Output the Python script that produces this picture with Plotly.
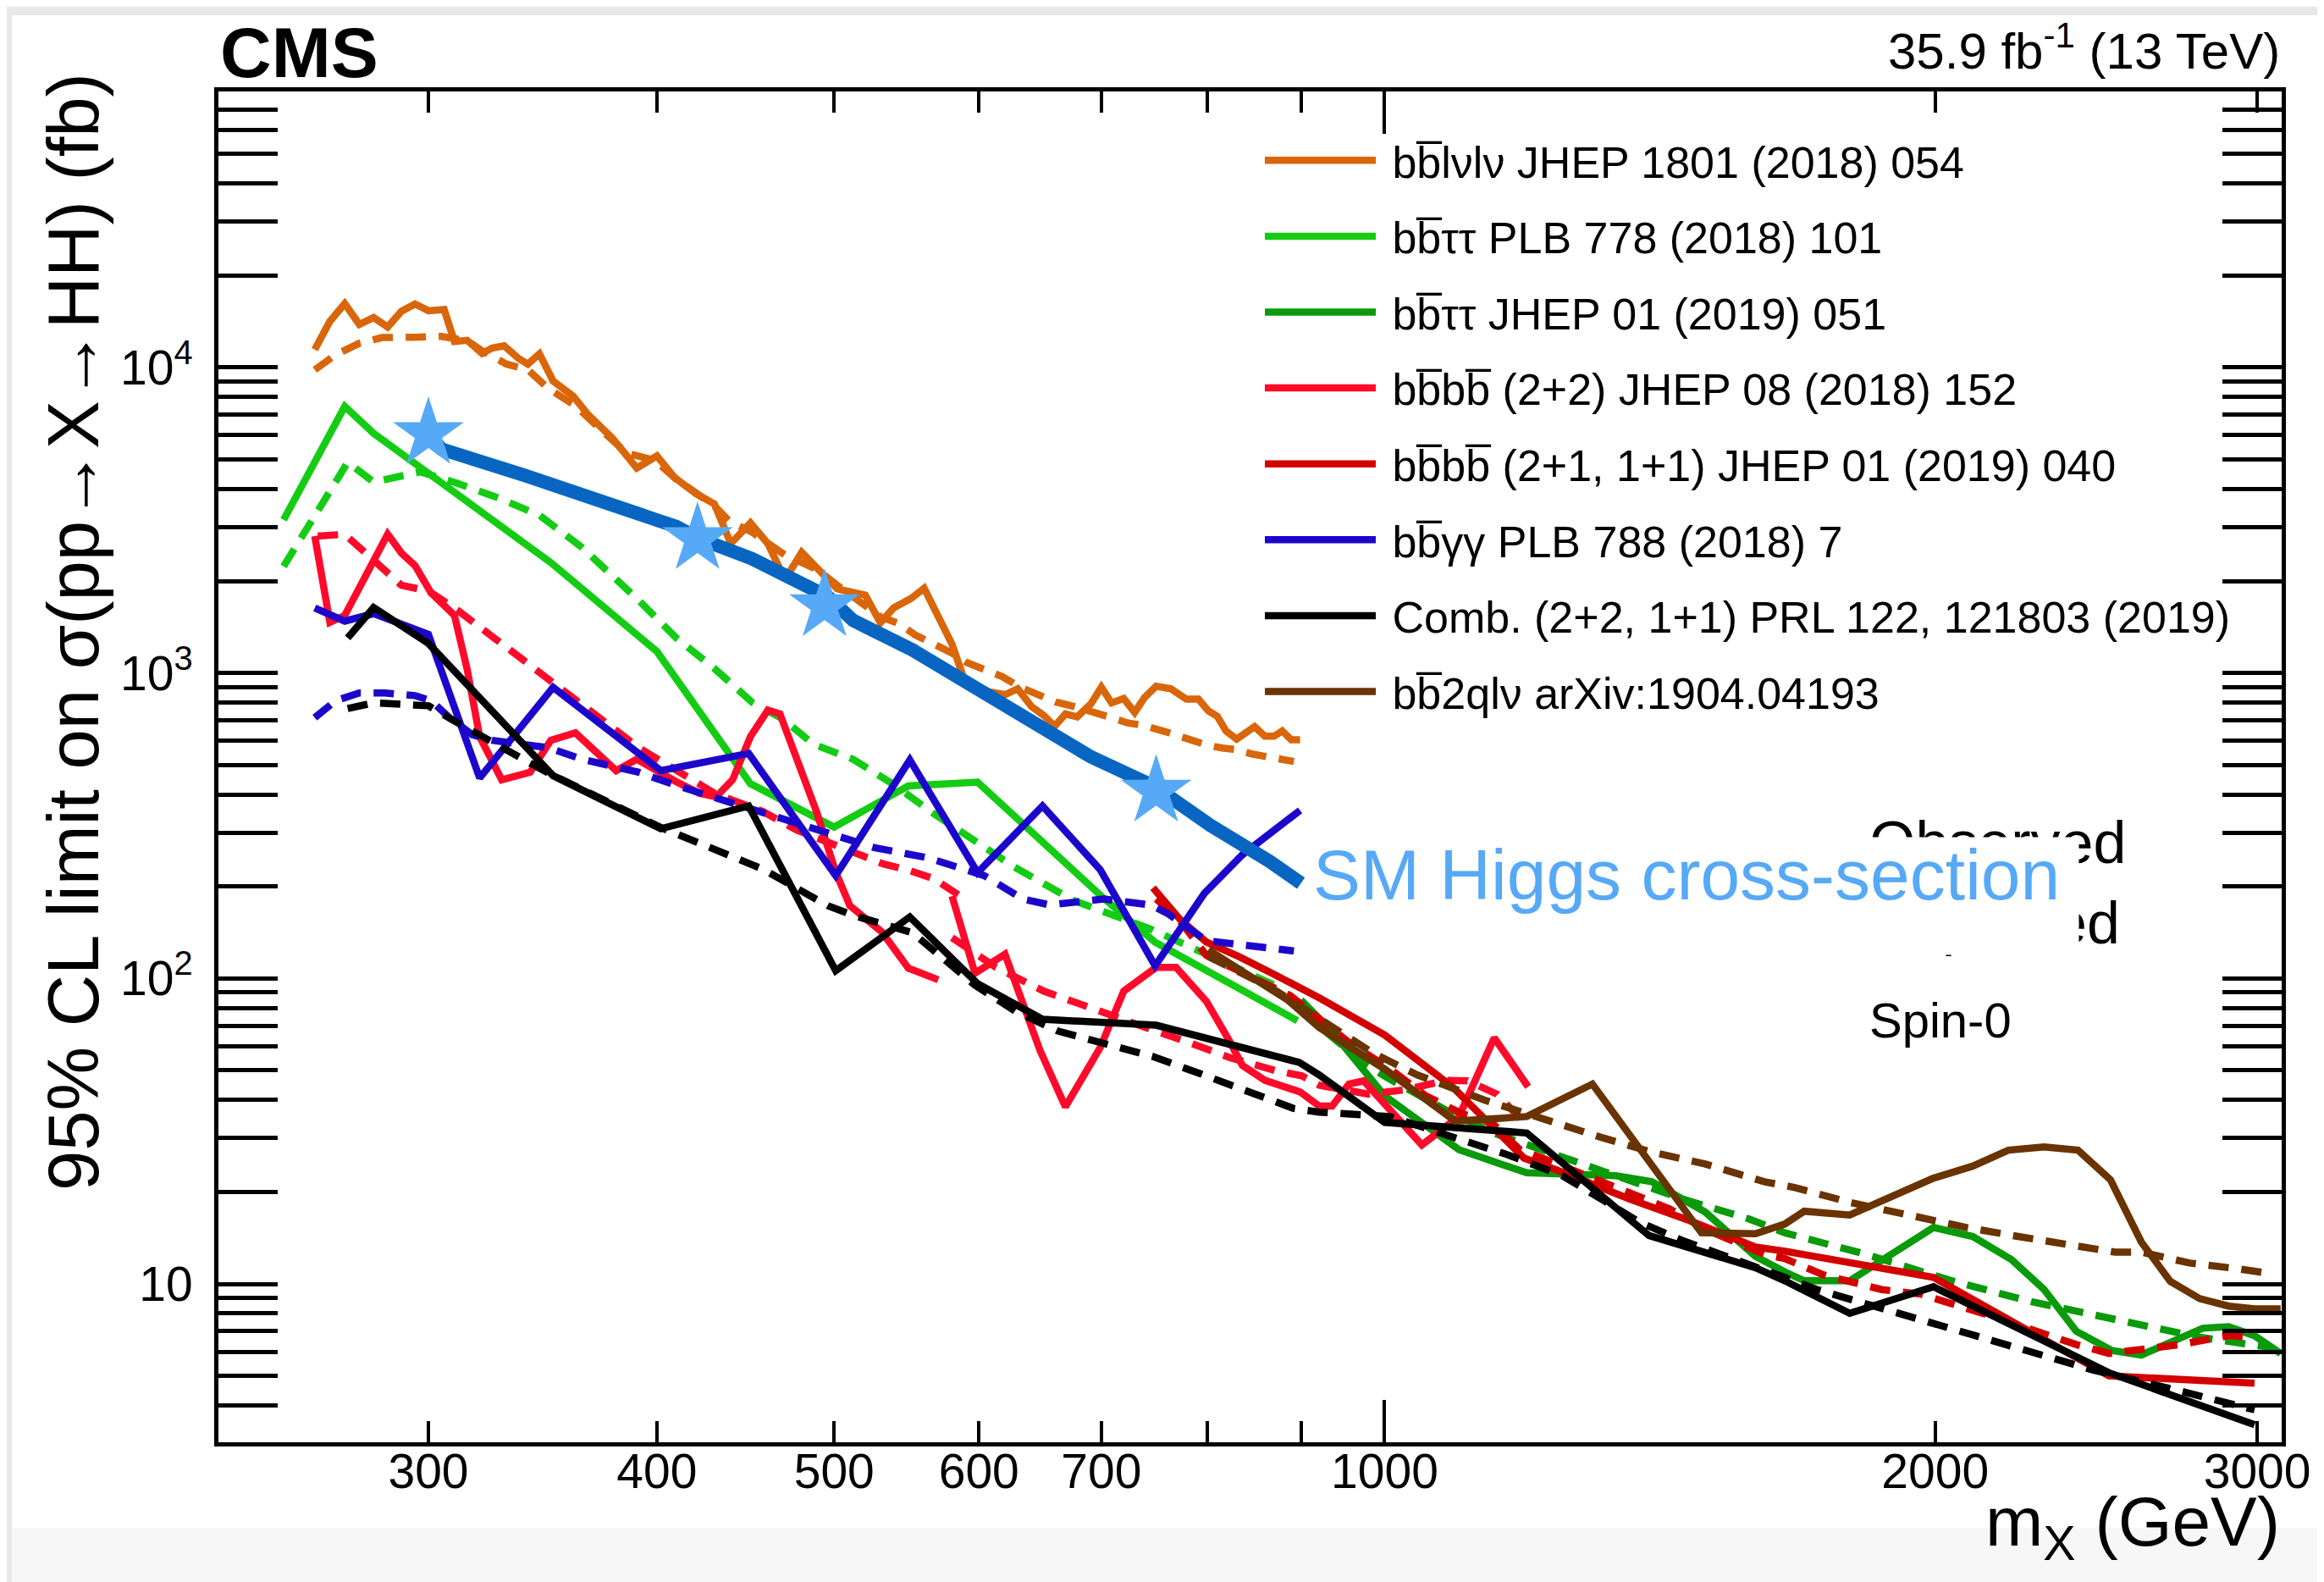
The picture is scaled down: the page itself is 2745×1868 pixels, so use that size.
import plotly.graph_objects as go

W, H = 2745, 1868
L, R, T, B = 250, 2687, 100, 1695  # plot area edges in pixels


def pxx(x):
    return (x - L) / (R - L)


def pxy(y):
    return (B - y) / (B - T)


FONT = "Liberation Sans, Arial, Helvetica, sans-serif"

# ---------------- data (m_X in GeV, limit in fb) ----------------
bblnln_obs_m = [260, 265, 270, 275, 280, 285, 290, 295, 300, 306, 310, 315, 321, 325, 330, 336, 340, 345, 351,
                360, 367, 378, 384, 390, 400, 409, 420, 430, 439, 450, 460, 470, 480, 490, 502, 520, 530, 539,
                551, 560, 571, 580, 589, 607, 620, 630, 641, 651, 660, 669, 679, 691, 700, 709, 720, 730, 739,
                750, 764, 779, 791, 801, 810, 819, 830, 849, 860, 870, 879, 889, 899]
bblnln_obs_v = [11440, 14160, 16190, 13840, 14570, 13570, 15290, 16140, 15340, 15470, 12170, 12270, 11110, 11570,
                11770, 10710, 10260, 11080, 9025, 8054, 6985, 5887, 5253, 4688, 5133, 4363, 3870, 3574, 2651, 3099,
                2651, 2022, 2482, 2203, 1883, 1798, 1460, 1634, 1755, 1894, 1487, 1243, 950, 869, 849, 888, 777,
                726, 669, 734, 718, 794, 898, 798, 825, 743, 830, 905, 888, 821, 821, 751, 721, 646, 607, 667,
                621, 621, 646, 604, 604]
bblnln_exp_m = [260, 267, 275, 283, 294, 305, 315, 321, 331, 340, 349, 361, 373, 385, 399, 410, 420, 430, 438,
                451, 470, 480, 490, 502, 530, 542, 554, 567, 580, 590, 602, 618, 632, 646, 661, 676, 691, 707,
                723, 739, 759, 779, 799, 815, 830, 846, 862, 881, 892]
bblnln_exp_v = [9829, 11020, 12000, 12530, 12560, 12640, 12240, 11330, 10260, 9829, 8524, 7496, 6233, 5253, 4962,
                4303, 3893, 3524, 3146, 2887, 2434, 2297, 2171, 1937, 1527, 1454, 1330, 1243, 1162, 1086, 1039,
                972, 898, 849, 803, 777, 751, 718, 687, 672, 642, 607, 581, 568, 561, 543, 531, 519, 513]

bbtt18_obs_m = [250, 270, 280, 350, 400, 450, 500, 549, 599, 700, 749, 896]
bbtt18_obs_v = [3171, 7455, 6091, 2298, 1176, 434, 313, 427, 439, 186, 131.5, 72.7]
bbtt18_exp_m = [250, 271, 280, 297, 311, 326, 345, 364, 391, 410, 430, 451, 469, 487, 512, 538, 567, 597, 627,
                661, 676, 745, 808, 881]
bbtt18_exp_v = [2233, 4893, 4216, 4554, 4181, 3784, 3283, 2576, 1728, 1300, 1035, 801, 705, 585, 522, 434, 346,
                284, 232, 194, 180, 145, 116, 92]

bbtt19_obs_m = [900, 921, 952, 1000, 1098, 1196, 1338, 1400, 1497, 1595, 1655, 1696, 1796, 1996, 2097, 2202,
                2294, 2389, 2499, 2593, 2801, 2894, 2990, 3090]
bbtt19_obs_v = [85, 73.9, 59.1, 41.3, 27.5, 23.1, 22.6, 21.6, 17.2, 12.3, 10.95, 10.24, 10.24, 15.3, 14.3, 12.0,
                9.58, 7.0, 6.05, 5.85, 7.16, 7.24, 6.77, 5.92]
bbtt19_exp_m = [900, 974, 1004, 1089, 1152, 1256, 1313, 1458, 1583, 1655, 1833, 2046, 2257, 2509, 2790, 3052]
bbtt19_exp_v = [78, 52.8, 47.2, 36.1, 30.9, 25.8, 23.6, 18.9, 16.3, 14.7, 12.5, 10.2, 8.75, 7.65, 6.69, 6.19]

bbbb22_obs_m = [260, 265, 270, 285, 290, 295, 301, 310, 315, 320, 329, 341, 350, 361, 380, 390, 410, 422, 431,
                440, 450, 460, 467, 477, 489, 501, 510, 531, 549, 570, None,
                580, 597, 620, 648, 669, 699, 720, 750, 769, 799, 822, 836, 860, 899, 921, 936, 956, 974, 1004,
                1048, 1098, 1148, 1198]
bbbb22_obs_v = [2806, 1465, 1542, 2845, 2469, 2246, 1829, 1542, 1028, 619, 447, 473, 602, 637, 479, 522, 440, 404,
                393, 447, 619, 756, 735, 522, 352, 223, 173, 142, 108, 99, None,
                186, 104, 120, 58.1, 38.0, 59.4, 90.9, 108.7, 108.7, 84.1, 62.8, 51.9, 46.4, 42.5, 38.2, 38.2,
                45.1, 46.2, 37.8, 28.5, 35.3, 63.9, 44.2]
bbbb22_exp_m = [261, 270, 275, 282, 290, 300, 311, 326, 347, 367, 391, 430, 457, 477, 508, 532, 548, 567, 586,
                None,
                580, 613, 651, 691, 734, 779, 824, 874, 901, 921, 980, 1026, 1081, 1110, 1152, 1196]
bbbb22_exp_v = [2806, 2845, 2576, 2265, 1937, 1856, 1609, 1300, 977, 756, 569, 404, 352, 306, 265, 237, 227, 212,
                186, None,
                136, 108.7, 90.9, 79.5, 70.3, 62.1, 54.9, 49.7, 48.0, 44.7, 41.8, 43.2, 46.4, 46.2, 41.8, 33.0]

bbbb21_obs_m = [747, 773, 799, 833, 871, 921, 1000, 1089, 1192, 1242, 1363, 1469, 1595, 1655, 1996, 2489, 2990]
bbbb21_obs_v = [198, 156, 131.5, 117.6, 102.8, 86.4, 65.3, 44.2, 25.8, 23.6, 18.9, 16.1, 13.2, 12.8, 10.5, 5.0,
                4.73]
bbbb21_exp_m = [750, 770, 799, 842, 888, 956, 1007, 1053, 1102, 1144, 1185, 1256, 1338, 1432, 1497, 1613, 1655,
                1738, 1870, 1964, 2149, 2389, 2489, 2722, 2894, 2978]
bbbb21_exp_v = [182, 159, 118.9, 101.7, 87.9, 61.8, 50.5, 41.3, 36.1, 33.8, 27.6, 24.1, 20.6, 17.6, 15.1, 12.5,
                12.1, 10.7, 9.58, 9.26, 7.83, 6.33, 5.92, 6.33, 6.77, 6.69]

bbgg_obs_m = [260, 270, 280, 300, 320, 351, 402, 449, 501, 550, 599, 650, 699, 749, 797, 836, 899]
bbgg_obs_v = [1633, 1478, 1564, 1337, 453, 897, 479, 545, 217, 519, 222, 367, 227, 110, 190, 254, 355]
bbgg_exp_m = [260, 267, 275, 284, 295, 301, 308, 317, 325, 349, 364, 391, 410, 430, 449, 526, 563, 604, 634, 656,
              681, 702, 745, 761, 799, 830, 892]
bbgg_exp_v = [714, 812, 860, 860, 843, 812, 714, 628, 602, 569, 522, 473, 428, 393, 361, 268, 248, 217, 182, 174,
              178, 182, 174, 163, 133, 130, 123]

comb_obs_m = [271, 280, 300, 351, 402, 449, 501, 550, 599, 650, 750, 898, 921, 1000, 1196, 1395, 1595, 1655,
              1796, 1996, 2489, 2990]
comb_obs_v = [1303, 1637, 1249, 461, 309, 367, 106, 159, 96.1, 73.5, 70.3, 53.1, 48.3, 33.8, 31.2, 14.4, 11.3,
              10.24, 8.01, 9.79, 5.12, 3.46]
comb_exp_m = [271, 280, 300, 310, 348, 402, 457, 496, 512, 552, 597, 629, 663, 704, 747, 794, 839, 892, 921, 1007,
              1098, 1169, 1251, 1313, 1379, 1458, 1554, 1655, 1724, 1908, 2149, 2439, 2756, 2990]
comb_exp_v = [765, 798, 781, 696, 474, 312, 228, 173, 161, 141, 95, 77.7, 67.2, 60.8, 55.5, 48.6, 43.0, 37.5,
              36.5, 35.3, 29.8, 26.4, 22.6, 18.9, 15.9, 13.8, 12.1, 10.5, 9.58, 8.01, 6.54, 5.23, 4.38, 3.87]

bb2qln_obs_m = [801, 885, 921, 1000, 1093, 1196, 1299, 1373, 1490, 1595, 1655, 1696, 1796, 1996, 2097, 2193,
                2294, 2394, 2494, 2593, 2689, 2790, 2894, 2990, 3090]
bb2qln_obs_v = [124, 85, 69.1, 50.5, 34.1, 35.3, 45.1, 28.9, 14.7, 14.6, 15.7, 17.3, 16.8, 22.2, 24.3, 27.4, 28.1,
                27.4, 21.9, 13.7, 10.2, 8.95, 8.46, 8.28, 8.28]
bb2qln_exp_m = [801, 870, 985, 1042, 1135, 1214, 1313, 1400, 1497, 1613, 1675, 1796, 1948, 2080, 2220, 2369,
                2509, 2593, 2756, 2930, 3052]
bb2qln_exp_v = [118, 92, 57.1, 48.3, 39.9, 34.9, 30.2, 27.0, 24.7, 21.6, 20.7, 18.5, 16.6, 15.3, 14.3, 13.4, 12.7,
                12.7, 11.7, 11.2, 10.8]

sm_m = [300, 305, 339, 373, 410, 421, 451, 496, 512, 552, 595, 641, 691, 749, 803, 865, 892, 900]
sm_v = [6070, 5404, 4424, 3627, 3013, 2766, 2364, 1778, 1487, 1188, 909, 695, 531, 424, 317, 242, 212, 205]
star_m = [300, 421, 494, 750]
star_v = [6070, 2750, 1658, 410]

legend_names = [
    "bb\u0305l\u03bdl\u03bd JHEP 1801 (2018) 054",
    "bb\u0305\u03c4\u03c4 PLB 778 (2018) 101",
    "bb\u0305\u03c4\u03c4 JHEP 01 (2019) 051",
    "bb\u0305bb\u0305 (2+2) JHEP 08 (2018) 152",
    "bb\u0305bb\u0305 (2+1, 1+1) JHEP 01 (2019) 040",
    "bb\u0305\u03b3\u03b3 PLB 788 (2018) 7",
    "Comb. (2+2, 1+1) PRL 122, 121803 (2019)",
    "bb\u03052ql\u03bd arXiv:1904.04193",
]
colors = ["#d9660a", "#14cc14", "#0a9a0a", "#ff0a2a", "#d40000", "#1c06cc", "#000000", "#6a3300"]

x_tickvals = [300, 400, 500, 600, 700, 1000, 2000, 3000]
x_ticktext = ["300", "400", "500", "600", "700", "1000", "2000", "3000"]
x_minor = [800, 900]
y_tickvals = [10, 100, 1000, 10000]
y_ticktext = ["10", "10<sup>2</sup>", "10<sup>3</sup>", "10<sup>4</sup>"]
y_minor = [3, 4, 5, 6, 7, 8, 9, 20, 30, 40, 50, 60, 70, 80, 90, 200, 300, 400, 500, 600, 700, 800, 900,
           2000, 3000, 4000, 5000, 6000, 7000, 8000, 9000, 20000, 30000, 40000, 50000, 60000, 70000, 80000]

series = [
    (bblnln_obs_m, bblnln_obs_v, bblnln_exp_m, bblnln_exp_v),
    (bbtt18_obs_m, bbtt18_obs_v, bbtt18_exp_m, bbtt18_exp_v),
    (bbtt19_obs_m, bbtt19_obs_v, bbtt19_exp_m, bbtt19_exp_v),
    (bbbb22_obs_m, bbbb22_obs_v, bbbb22_exp_m, bbbb22_exp_v),
    (bbbb21_obs_m, bbbb21_obs_v, bbbb21_exp_m, bbbb21_exp_v),
    (bbgg_obs_m, bbgg_obs_v, bbgg_exp_m, bbgg_exp_v),
    (comb_obs_m, comb_obs_v, comb_exp_m, comb_exp_v),
    (bb2qln_obs_m, bb2qln_obs_v, bb2qln_exp_m, bb2qln_exp_v),
]

LW = 8.5
DASH = "24px,15px"

fig = go.Figure()
for i, (om, ov, em, ev) in enumerate(series):
    grp = "g%d" % i
    fig.add_trace(go.Scatter(x=em, y=ev, mode="lines", line=dict(color=colors[i], width=LW, dash=DASH),
                             legendgroup=grp, showlegend=False, hoverinfo="skip", connectgaps=False))
    fig.add_trace(go.Scatter(x=om, y=ov, mode="lines", line=dict(color=colors[i], width=LW),
                             name="\u00a0" + legend_names[i], legendgroup=grp, legendrank=i + 1,
                             showlegend=True, connectgaps=False))

fig.add_trace(go.Scatter(x=sm_m, y=sm_v, mode="lines", line=dict(color="#0866c2", width=16),
                         showlegend=False, hoverinfo="skip"))
fig.add_trace(go.Scatter(x=star_m, y=star_v, mode="markers",
                         marker=dict(symbol="star", size=63, color="#56a9f6", line=dict(width=0)),
                         showlegend=False))
# helper trace for the long decade tick on the x axis
fig.add_trace(go.Scatter(x=[1000], y=[None], xaxis="x2", mode="lines", showlegend=False, hoverinfo="skip"))

axis_common = dict(showline=True, linewidth=5, linecolor="black", mirror="allticks", ticks="inside",
                   tickcolor="black", showgrid=False, zeroline=False)

fig.update_layout(
    width=W, height=H,
    margin=dict(l=L, r=W - R, t=T, b=H - B, pad=0),
    paper_bgcolor="white", plot_bgcolor="white",
    font=dict(family=FONT, color="black", size=50),
    xaxis=dict(type="log", range=[2.3623, 3.4905], tickvals=x_tickvals, ticktext=x_ticktext,
               ticklen=25, tickwidth=3.5, tickfont=dict(size=57), ticklabelstandoff=-19,
               minor=dict(tickvals=x_minor, ticklen=25, tickwidth=3.5, ticks="inside", tickcolor="black",
                          showgrid=False),
               **axis_common),
    xaxis2=dict(type="log", range=[2.3623, 3.4905], overlaying="x", anchor="y", tickvals=[1000],
                ticklen=50, tickwidth=3.5, showticklabels=False, **axis_common),
    yaxis=dict(type="log", range=[0.4816, 4.9036], tickvals=y_tickvals, ticktext=y_ticktext,
               ticklen=70, tickwidth=5, tickfont=dict(size=57), ticklabelstandoff=14,
               minor=dict(tickvals=y_minor, ticklen=35, tickwidth=4.5, ticks="inside", tickcolor="black",
                          showgrid=False),
               **axis_common),
    legend=dict(x=pxx(1481), y=pxy(141), xanchor="left", yanchor="top", bgcolor="rgba(0,0,0,0)",
                font=dict(size=52, family=FONT), itemwidth=131, tracegroupgap=19,
                traceorder="grouped"),
    showlegend=True,
)

ann = [
    dict(text="Observed", x=pxx(2198), y=pxy(987), xanchor="left", yanchor="middle", font=dict(size=70)),
    dict(text="Expected", x=pxx(2202), y=pxy(1082), xanchor="left", yanchor="middle", font=dict(size=70)),
    dict(text="Spin-0", x=pxx(2198), y=pxy(1196), xanchor="left", yanchor="middle", font=dict(size=58)),
    # white box that hides part of the Observed/Expected labels, as in the original
    dict(text="\u00a0", x=pxx(1538), y=pxy(980), xanchor="left", yanchor="top", width=908, height=138,
         bgcolor="white", borderpad=0, font=dict(size=10)),
    dict(text="SM Higgs cross-section", x=pxx(1541), y=pxy(1025), xanchor="left", yanchor="middle",
         font=dict(size=84, color="#56a9f6")),
    dict(text="<b>CMS</b>", x=pxx(250), y=pxy(54), xanchor="left", yanchor="middle", font=dict(size=84)),
    dict(text="35.9 fb<sup>-1</sup> (13 TeV)", x=pxx(2687), y=pxy(48), xanchor="right", yanchor="middle",
         font=dict(size=60)),
    dict(text="m<sub>X</sub> (GeV)", x=pxx(2687), y=pxy(1795), xanchor="right", yanchor="middle",
         font=dict(size=82)),
    dict(text="95% CL limit on \u03c3(pp\u2192X\u2192HH) (fb)", x=pxx(78), y=pxy(738), xanchor="center",
         yanchor="middle", textangle=-90, font=dict(size=85)),
]
for a in ann:
    a.update(xref="paper", yref="paper", showarrow=False)
fig.update_layout(annotations=ann)

shapes = [
    dict(type="rect", x0=pxx(0), x1=pxx(W), y0=pxy(1796), y1=pxy(H), fillcolor="#f7f7f7", line=dict(width=0),
         layer="below"),
    dict(type="rect", x0=pxx(0), x1=pxx(W), y0=pxy(0), y1=pxy(10), fillcolor="#e8e8e8", line=dict(width=0),
         layer="below"),
    dict(type="rect", x0=pxx(0), x1=pxx(6), y0=pxy(0), y1=pxy(H), fillcolor="#e8e8e8", line=dict(width=0),
         layer="below"),
]
for s in shapes:
    s.update(xref="paper", yref="paper")
fig.update_layout(shapes=shapes)

fig.write_html("out.html")
